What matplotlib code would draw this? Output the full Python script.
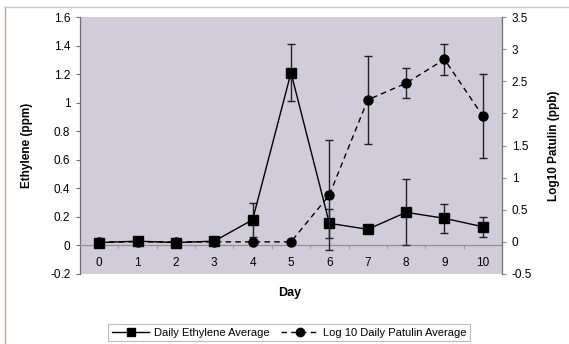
import matplotlib
matplotlib.use("Agg")
import matplotlib.pyplot as plt
from matplotlib.lines import Line2D
import numpy as np

plt.rcParams['font.family'] = ['Liberation Sans', 'DejaVu Sans']

days = [0, 1, 2, 3, 4, 5, 6, 7, 8, 9, 10]
day_labels = [str(d) for d in days]

ethylene = [0.02, 0.03, 0.02, 0.03, 0.18, 1.21, 0.155, 0.113, 0.232, 0.19, 0.131]
ethylene_err = [0.01, 0.01, 0.01, 0.01, 0.12, 0.20, 0.10, 0.015, 0.23, 0.10, 0.07]

patulin = [0, 0, 0, 0, 0, 0, 0.73, 2.21, 2.47, 2.84, 1.96]
patulin_err = [0, 0, 0, 0, 0, 0, 0.86, 0.69, 0.23, 0.24, 0.65]

W, H = 569, 344
fig = plt.figure(figsize=(W / 100, H / 100), dpi=100)
fig.patch.set_facecolor('white')

L, R, T, B = 80, 502, 17, 274
ax = fig.add_axes([L / W, 1 - B / H, (R - L) / W, (B - T) / H])
ax.set_facecolor('#d0ccd9')

x = np.arange(len(days))
ax.errorbar(x, ethylene, yerr=ethylene_err, color='black', lw=1.0,
            marker='s', ms=6.5, mfc='black', mec='black',
            ecolor='#222222', elinewidth=1.0, capsize=3, capthick=1.0, zorder=4)
ax.set_xlim(-0.5, 10.5)
ax.set_ylim(-0.2, 1.6)
ax.set_yticks(np.arange(-0.2, 1.61, 0.2))
ax.set_yticklabels(['-0.2', '0', '0.2', '0.4', '0.6', '0.8', '1', '1.2', '1.4', '1.6'])

# category axis crossing at zero
ax.spines['bottom'].set_position(('data', 0))
ax.spines['bottom'].set_color('#9a8c92')
ax.spines['bottom'].set_linewidth(0.9)
ax.spines['top'].set_visible(False)
ax.spines['right'].set_visible(False)
ax.spines['left'].set_color('#707070')
ax.spines['left'].set_linewidth(0.9)
ax.set_xticks(x)
ax.set_xticklabels(day_labels)
ax.set_xticks(np.arange(0.5, 10.5, 1.0), minor=True)
ax.tick_params(axis='x', which='major', length=0, pad=8, labelsize=8.5)
ax.tick_params(axis='x', which='minor', length=3, direction='out', color='#9a8c92')
ax.tick_params(axis='y', length=3, direction='out', color='#707070', labelsize=8.5, pad=4)

ax.set_ylabel('Ethylene (ppm)', fontsize=8.5, fontweight='bold')
ax.yaxis.set_label_coords((33 - L) / (R - L), 0.5)

ax2 = ax.twinx()
ax2.errorbar(x, patulin, yerr=patulin_err, color='black', lw=1.0, ls=(0, (4, 3)),
             marker='o', ms=6.5, mfc='black', mec='black',
             ecolor='#222222', elinewidth=1.0, capsize=3, capthick=1.0, zorder=3)
ax2.set_ylim(-0.5, 3.5)
ax2.set_yticks(np.arange(-0.5, 3.51, 0.5))
ax2.set_yticklabels(['-0.5', '0', '0.5', '1', '1.5', '2', '2.5', '3', '3.5'])
for s in ['top', 'bottom', 'left']:
    ax2.spines[s].set_visible(False)
ax2.spines['right'].set_color('#707070')
ax2.spines['right'].set_linewidth(0.9)
ax2.tick_params(axis='y', length=3, direction='out', color='#7890b8', labelsize=8.5, pad=4)
ax2.set_ylabel('Log10 Patulin (ppb)', fontsize=8.5, fontweight='bold')
ax2.yaxis.set_label_coords((548 - L) / (R - L), 0.5)

# x axis title placed in figure pixels
fig.text(290 / W, 1 - 293 / H, 'Day', fontsize=9, fontweight='bold',
         ha='center', va='center')

handles = [
    Line2D([], [], color='black', lw=1.0, marker='s', ms=6, mfc='black'),
    Line2D([], [], color='black', lw=1.0, ls=(0, (4, 3)), marker='o', ms=6, mfc='black'),
]
leg = fig.legend(handles, ['Daily Ethylene Average', 'Log 10 Daily Patulin Average'],
                 loc='center', bbox_to_anchor=(289 / W, 1 - 332.5 / H), ncol=2,
                 fontsize=8, frameon=True, fancybox=False, handlelength=3.4,
                 borderpad=0.35, columnspacing=1.0, handletextpad=0.4)
leg.get_frame().set_edgecolor('#b8a99a')
leg.get_frame().set_linewidth(0.8)

# chart area border (top and left edges)
fig.add_artist(Line2D([5 / W, 5 / W], [0, 1 - 7 / H], transform=fig.transFigure,
                      color='#c0a89a', lw=1.0))
fig.add_artist(Line2D([5 / W, 1], [1 - 7 / H, 1 - 7 / H], transform=fig.transFigure,
                      color='#d0c8c8', lw=1.0))

fig.savefig('out.png', dpi=100, facecolor='white')
